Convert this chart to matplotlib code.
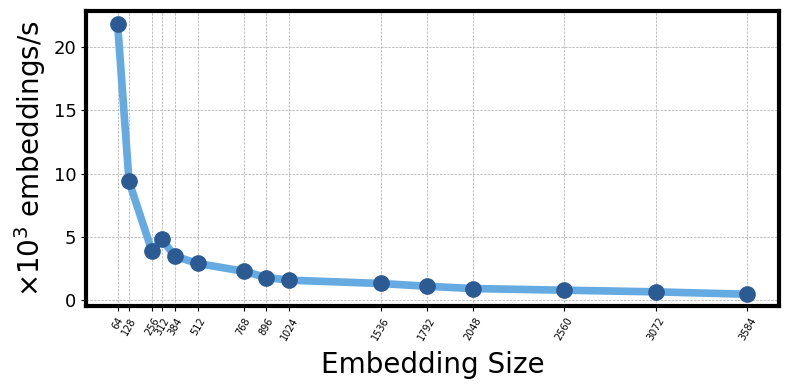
import matplotlib
matplotlib.use('Agg')
from matplotlib import pyplot as plt

# embedding size vs throughput (x10^3 embeddings/s)
emb_sizes = [64, 128, 256, 312, 384, 512, 768, 896, 1024, 1536, 1792, 2048, 2560, 3072, 3584]
throughput = [21.8, 9.38, 3.87, 4.8, 3.48, 2.9, 2.29, 1.79, 1.58, 1.32, 1.1, 0.92, 0.79, 0.66, 0.47]
tick_labels = [str(s) for s in emb_sizes]

fig, ax = plt.subplots(figsize=(7.9, 3.9), dpi=100)

ax.plot(emb_sizes, throughput, color='#65aae0', linewidth=5.5, zorder=2)
ax.plot(emb_sizes, throughput, linestyle='None', marker='o', markersize=11,
        color='#2c5a92', zorder=3)

ax.set_xticks(emb_sizes)
ax.set_xticklabels(tick_labels, rotation=60, fontsize=7)
ax.set_yticks([0, 5, 10, 15, 20])
ax.tick_params(axis='y', labelsize=13)

ax.set_xlim(-112, 3760)
ax.set_ylim(-0.47, 22.85)

ax.grid(True, linestyle='--', linewidth=0.5, color='#aaaaaa')
ax.set_axisbelow(True)

for sp in ax.spines.values():
    sp.set_linewidth(3)

ax.set_xlabel('Embedding Size', fontsize=20, labelpad=6)
ax.set_ylabel(r'$\times 10^3$ embeddings/s', fontsize=20)

fig.subplots_adjust(left=0.109, right=0.986, top=0.972, bottom=0.215)
fig.savefig('out.png', dpi=100)
